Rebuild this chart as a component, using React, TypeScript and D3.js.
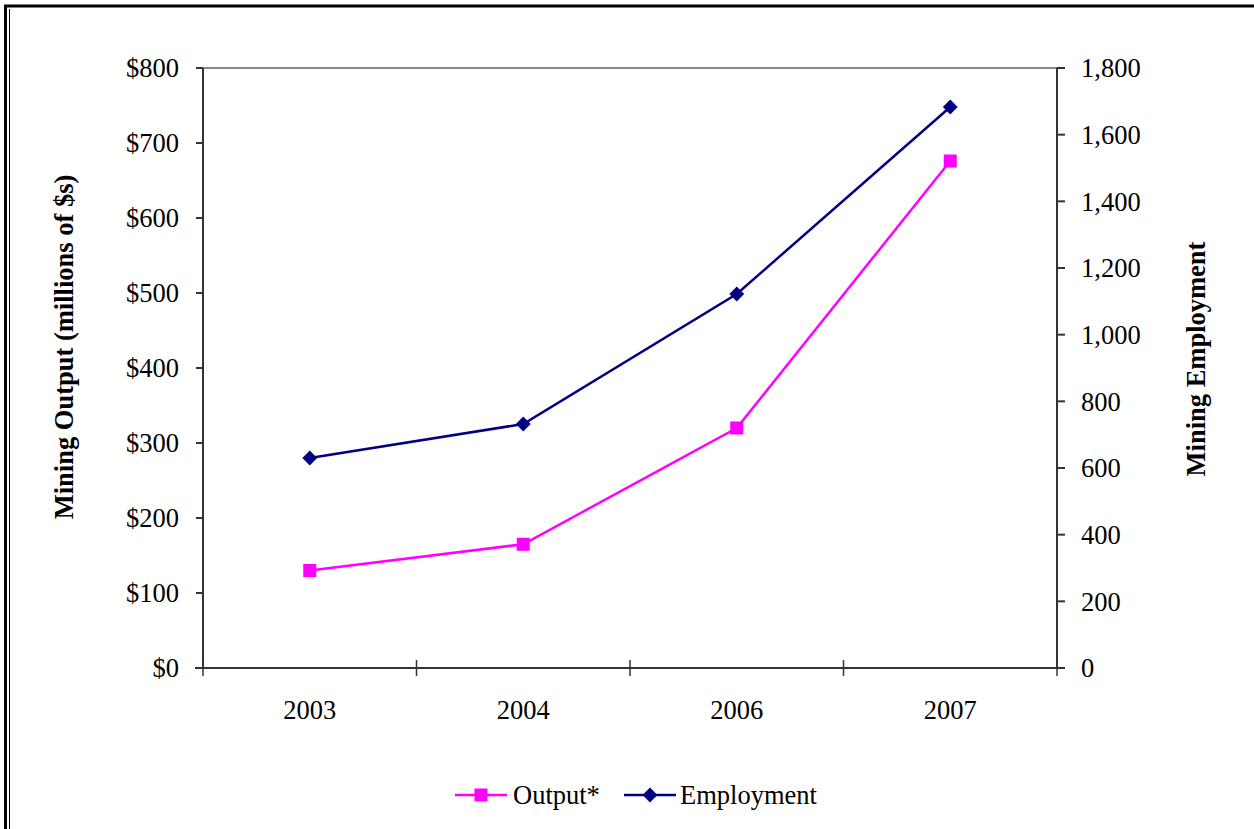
import React from "react";
import * as d3 from "d3";

// Mining output (millions of dollars) and mining employment by year
const years = ["2003", "2004", "2006", "2007"];
const outputValues = [130, 165, 320, 676];
const employmentValues = [630, 732, 1122, 1683];
const outputTicks = [0, 100, 200, 300, 400, 500, 600, 700, 800];
const employmentTicks = [0, 200, 400, 600, 800, 1000, 1200, 1400, 1600, 1800];
const seriesNames = ["Output*", "Employment"];

const W = 1254;
const H = 829;
const left = 203;
const right = 1057;
const top = 68;
const bottom = 668;
const FONT = "'Liberation Serif', 'Times New Roman', serif";
const FS = 26.5;
const MAGENTA = "#FF00FF";
const NAVY = "#000080";

export default function App() {
  const x = d3.scaleBand<string>().domain(years).range([left, right]);
  const yL = d3.scaleLinear().domain([0, 800]).range([bottom, top]);
  const yR = d3.scaleLinear().domain([0, 1800]).range([bottom, top]);
  const cx = (d: string) => (x(d) ?? 0) + x.bandwidth() / 2;

  const lineL = d3
    .line<number>()
    .x((_, i) => cx(years[i]))
    .y((v) => yL(v));
  const lineR = d3
    .line<number>()
    .x((_, i) => cx(years[i]))
    .y((v) => yR(v));

  const dollar = (v: number) => "$" + d3.format(",")(v);
  const comma = d3.format(",");
  const xEdges = [...years.map((y) => x(y) ?? 0), right];
  const diamond = d3.symbol(d3.symbolDiamond2, 140)() as string;

  return (
    <svg
      width={W}
      height={H}
      style={{ position: "absolute", left: 0, top: 0, background: "#fff" }}
      fontFamily={FONT}
    >
      {/* page frame */}
      <line x1={4} x2={W} y1={6} y2={6} stroke="#000" strokeWidth={3} />
      <line x1={5.5} x2={5.5} y1={5} y2={H} stroke="#000" strokeWidth={3} />
      <line x1={9.5} x2={9.5} y1={9} y2={H} stroke="#000" strokeWidth={1} />

      {/* plot area border (top) */}
      <line x1={left} x2={right} y1={top} y2={top} stroke="#888" strokeWidth={2} />

      {/* left axis */}
      <line x1={left} x2={left} y1={top} y2={bottom} stroke="#333" strokeWidth={2} />
      {outputTicks.map((t) => (
        <g key={"l" + t}>
          <line x1={left - 7} x2={left} y1={yL(t)} y2={yL(t)} stroke="#333" strokeWidth={2} />
          <text
            x={179}
            y={yL(t)}
            dy="0.35em"
            textAnchor="end"
            fontSize={FS}
            fill="#000"
          >
            {dollar(t)}
          </text>
        </g>
      ))}

      {/* right axis */}
      <line x1={right} x2={right} y1={top} y2={bottom} stroke="#333" strokeWidth={2} />
      {employmentTicks.map((t) => (
        <g key={"r" + t}>
          <line x1={right} x2={right + 8} y1={yR(t)} y2={yR(t)} stroke="#333" strokeWidth={2} />
          <text
            x={1081}
            y={yR(t)}
            dy="0.35em"
            textAnchor="start"
            fontSize={FS}
            fill="#000"
          >
            {comma(t)}
          </text>
        </g>
      ))}

      {/* category axis */}
      <line x1={left - 8} x2={right} y1={bottom} y2={bottom} stroke="#333" strokeWidth={2} />
      {xEdges.map((e, i) => (
        <line key={"xt" + i} x1={e} x2={e} y1={bottom - 8} y2={bottom + 8} stroke="#333" strokeWidth={1.5} />
      ))}
      {years.map((y) => (
        <text key={"xl" + y} x={cx(y)} y={719} textAnchor="middle" fontSize={FS} fill="#000">
          {y}
        </text>
      ))}

      {/* axis titles */}
      <text
        transform={`translate(73, ${(top + bottom) / 2 - 21}) rotate(-90)`}
        textAnchor="middle"
        fontSize={FS}
        fontWeight="bold"
        fill="#000"
      >
        Mining Output (millions of $s)
      </text>
      <text
        transform={`translate(1205, ${(top + bottom) / 2 - 9}) rotate(-90)`}
        textAnchor="middle"
        fontSize={FS}
        fontWeight="bold"
        fill="#000"
      >
        Mining Employment
      </text>

      {/* series: employment */}
      <path d={lineR(employmentValues) ?? ""} fill="none" stroke={NAVY} strokeWidth={2.5} />
      {employmentValues.map((v, i) => (
        <path
          key={"e" + i}
          d={diamond}
          transform={`translate(${cx(years[i])}, ${yR(v)})`}
          fill={NAVY}
        />
      ))}

      {/* series: output */}
      <path d={lineL(outputValues) ?? ""} fill="none" stroke={MAGENTA} strokeWidth={2.5} />
      {outputValues.map((v, i) => (
        <rect
          key={"o" + i}
          x={cx(years[i]) - 6.5}
          y={yL(v) - 6.5}
          width={13}
          height={13}
          fill={MAGENTA}
        />
      ))}

      {/* legend */}
      <g transform="translate(0, 795)">
        <line x1={455} x2={507} y1={0} y2={0} stroke={MAGENTA} strokeWidth={2.5} />
        <rect x={474.5} y={-6.5} width={13} height={13} fill={MAGENTA} />
        <text x={513} y={0} dy="0.35em" fontSize={FS} fill="#000">
          {seriesNames[0]}
        </text>
        <line x1={624} x2={676} y1={0} y2={0} stroke={NAVY} strokeWidth={2.5} />
        <path d={diamond} transform="translate(650, 0)" fill={NAVY} />
        <text x={680} y={0} dy="0.35em" fontSize={FS} fill="#000">
          {seriesNames[1]}
        </text>
      </g>
    </svg>
  );
}
